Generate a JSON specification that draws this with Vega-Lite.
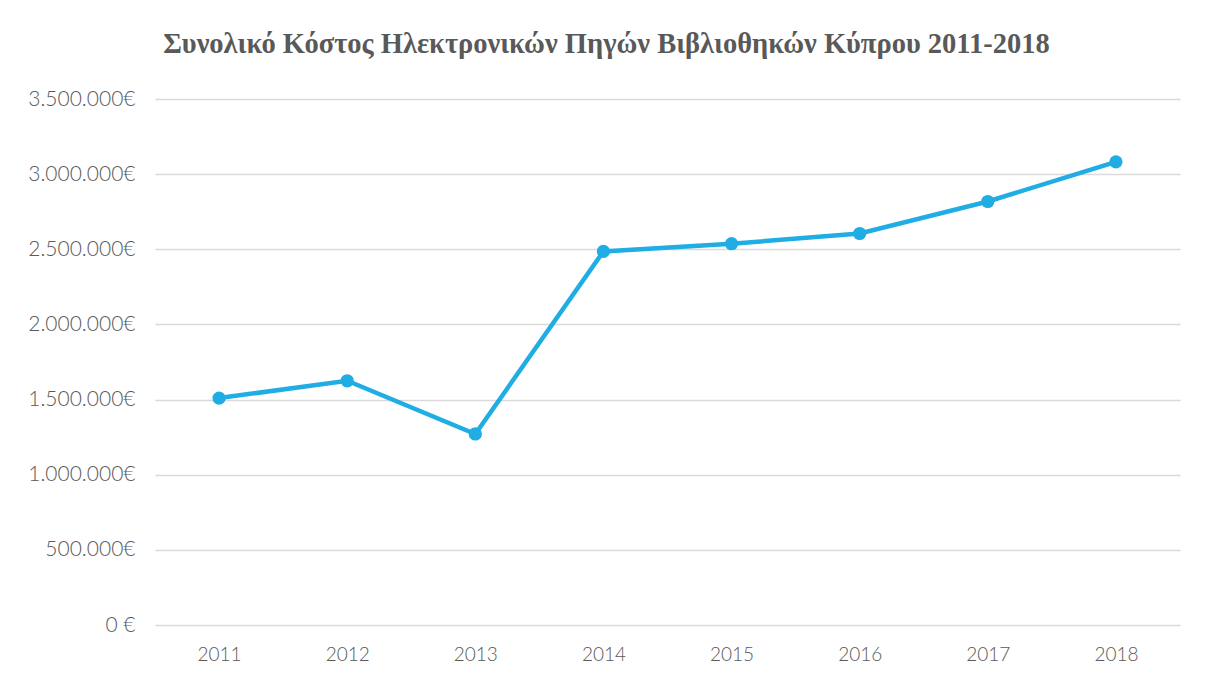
{
  "$schema": "https://vega.github.io/schema/vega-lite/v6.json",
  "autosize": "none",
  "width": 1025,
  "height": 526,
  "padding": {"left": 155, "top": 99, "right": 25, "bottom": 55},
  "background": "white",
  "config": {
    "locale": {"number": {"decimal": ",", "thousands": ".", "grouping": [3], "currency": ["", "€"]}},
    "view": {"stroke": null}
  },
  "title": {
    "text": "Συνολικό Κόστος Ηλεκτρονικών Πηγών Βιβλιοθηκών Κύπρου 2011-2018",
    "font": "Liberation Serif",
    "fontSize": 28.5,
    "fontWeight": "bold",
    "color": "#595959",
    "anchor": "middle",
    "dx": -61,
    "offset": 30
  },
  "data": {
    "values": [
      {"year": "2011", "cost": 1510000},
      {"year": "2012", "cost": 1625000},
      {"year": "2013", "cost": 1271000},
      {"year": "2014", "cost": 2486000},
      {"year": "2015", "cost": 2537000},
      {"year": "2016", "cost": 2605000},
      {"year": "2017", "cost": 2818000},
      {"year": "2018", "cost": 3082000}
    ]
  },
  "mark": {"type": "line", "color": "#1FADE4", "strokeWidth": 4.5, "point": {"filled": true, "size": 175, "color": "#1FADE4", "opacity": 1}},
  "encoding": {
    "x": {
      "field": "year",
      "type": "ordinal",
      "scale": {"type": "point", "padding": 0.5},
      "axis": {"title": null, "labelAngle": 0, "domain": false, "ticks": false, "labelFont": "Lato", "labelFontWeight": 300, "labelFontSize": 19, "labelColor": "#595959", "labelPadding": 20, "grid": false}
    },
    "y": {
      "field": "cost",
      "type": "quantitative",
      "scale": {"domain": [0, 3500000]},
      "axis": {
        "title": null,
        "values": [0, 500000, 1000000, 1500000, 2000000, 2500000, 3000000, 3500000],
        "labelExpr": "datum.value == 0 ? '0 €' : format(datum.value, ',.0f') + '€'",
        "domain": false,
        "ticks": false,
        "labelFont": "Lato",
        "labelFontWeight": 300,
        "labelFontSize": 21,
        "labelColor": "#595959",
        "labelPadding": 20,
        "gridColor": "#d9d9d9",
        "gridWidth": 1.3
      }
    }
  }
}
